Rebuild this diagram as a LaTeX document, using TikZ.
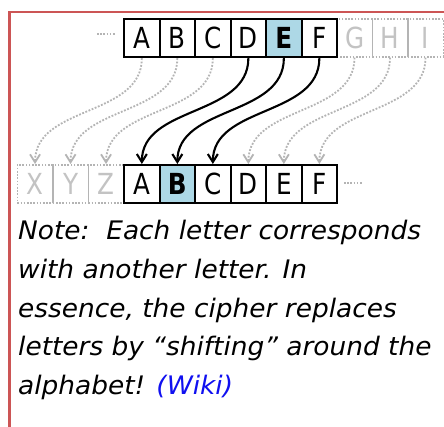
\documentclass[tikz,border=0pt]{standalone}
\usepackage{fontspec}
\setmainfont{DejaVu Sans}
\newfontfamily\boxfont[FakeStretch=0.85]{DejaVu Sans}
\newfontfamily\notefont[FakeStretch=1.035]{DejaVu Sans}
\usetikzlibrary{arrows.meta}
\definecolor{redb}{HTML}{CC5555}
\definecolor{lblue}{HTML}{ADD8E6}
\definecolor{lgray}{HTML}{B4B4B4}
\definecolor{wikiblue}{HTML}{1010F0}
\begin{document}
\begin{tikzpicture}[x=1pt,y=-1pt,
  cell/.style={draw=black, line width=2.2pt, fill=white, minimum width=35.5pt, minimum height=38pt,
    inner sep=0pt, anchor=north west, font=\boxfont\fontsize{29}{29}\selectfont},
  hcell/.style={cell, fill=lblue, font=\boxfont\bfseries\fontsize{29}{29}\selectfont},
  gcell/.style={cell, draw=lgray, fill=none, line width=1.6pt, dash pattern=on 1.6pt off 1.6pt, text=lgray!80},
  shiftarrow/.style={line width=2.1pt, -{Straight Barb[length=8pt,width=10pt,line width=2.1pt]}},
  gshiftarrow/.style={lgray, line width=1.8pt, dash pattern=on 1.8pt off 1.6pt, -{Straight Barb[length=8pt,width=10pt]}},
  note/.style={anchor=base west, inner sep=0pt, font=\notefont\fontsize{25.5}{25.5}\selectfont\itshape},
  dotline/.style={lgray, line width=1.6pt, dash pattern=on 1.6pt off 1.6pt}
]
\useasboundingbox (0,0) rectangle (444,427);
\fill[white] (0,0) rectangle (444,427);
\draw[redb, line width=2.2pt] (9.5,440) |- (460,12);

% top row
\node[gcell] (tG) at (336,18) {G};
\node[gcell] (tH) at (371.5,18) {H};
\node[gcell] (tI) at (407,18) {I};
\node[cell] (tA) at (123,18) {A};
\node[cell] (tB) at (158.5,18) {B};
\node[cell] (tC) at (194,18) {C};
\node[cell] (tD) at (229.5,18) {D};
\node[hcell] (tE) at (265,18) {E};
\node[cell] (tF) at (300.5,18) {F};

% bottom row
\node[gcell] (bX) at (16.5,164) {X};
\node[gcell] (bY) at (52,164) {Y};
\node[gcell] (bZ) at (87.5,164) {Z};
\node[cell] (bA) at (123,164) {A};
\node[hcell] (bB) at (158.5,164) {B};
\node[cell] (bC) at (194,164) {C};
\node[cell] (bD) at (229.5,164) {D};
\node[cell] (bE) at (265,164) {E};
\node[cell] (bF) at (300.5,164) {F};

% dots
\coordinate (d1) at (97,34); \coordinate (d2) at (116,34);
\coordinate (d3) at (344,183); \coordinate (d4) at (363,183);
\draw[dotline] (d1) -- (d2);
\draw[dotline] (d3) -- (d4);

% shifts
\draw[gshiftarrow] (tA.south) to[out=-90,in=90] (bX.north);
\draw[gshiftarrow] (tB.south) to[out=-90,in=90] (bY.north);
\draw[gshiftarrow] (tC.south) to[out=-90,in=90] (bZ.north);
\draw[gshiftarrow] (tG.south) to[out=-90,in=90] (bD.north);
\draw[gshiftarrow] (tH.south) to[out=-90,in=90] (bE.north);
\draw[gshiftarrow] (tI.south) to[out=-90,in=90] (bF.north);
\draw[shiftarrow] (tD.south) to[out=-90,in=90] (bA.north);
\draw[shiftarrow] (tE.south) to[out=-90,in=90] (bB.north);
\draw[shiftarrow] (tF.south) to[out=-90,in=90] (bC.north);

% note
\node[note] (n1) at (18,240) {Note:\ \ Each letter corresponds};
\node[note] (n2) at (18,278.5) {with another letter. In};
\node[note] (n3) at (18,317) {essence, the cipher replaces};
\node[note] (n4) at (18,355.5) {letters by “shifting” around the};
\node[note] (n5) at (18,394) {alphabet! \textcolor{wikiblue}{(Wiki)}};
\end{tikzpicture}
\end{document}
